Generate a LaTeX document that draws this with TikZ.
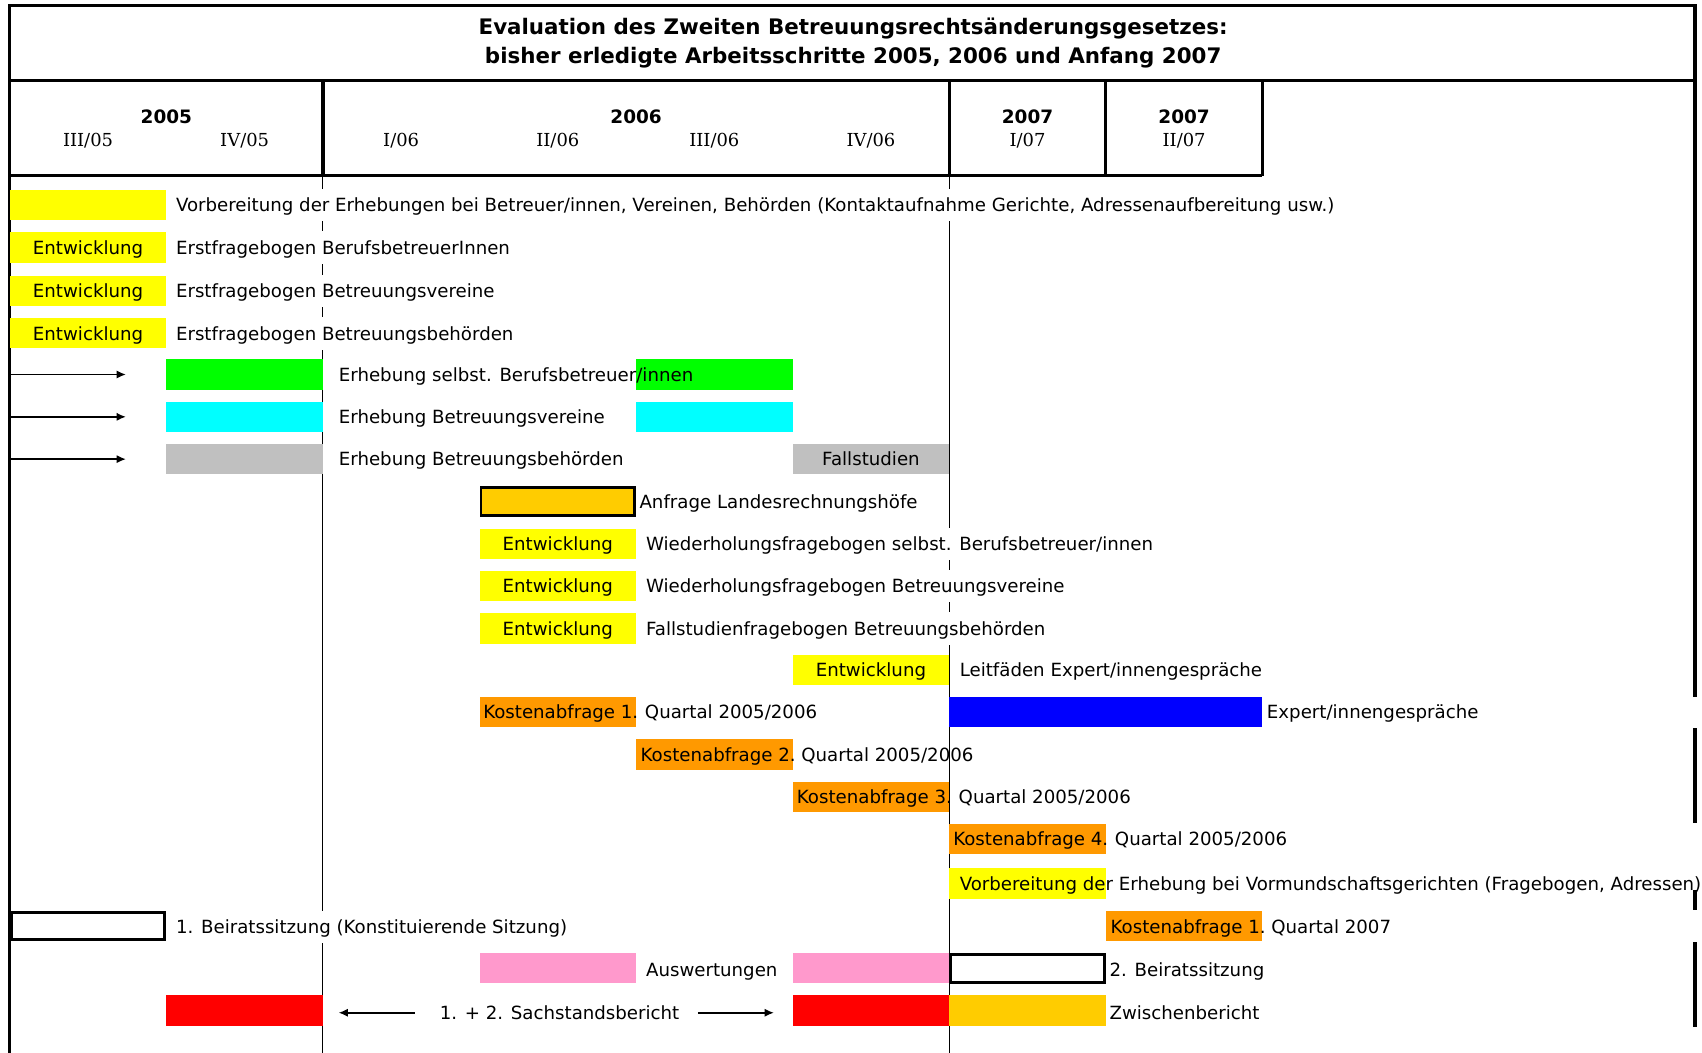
\documentclass[tikz,border=0pt]{standalone}
\usepackage{fontspec}
\setmainfont{DejaVu Sans}
\newfontfamily\qserif{DejaVu Serif}
\usetikzlibrary{arrows.meta}
\definecolor{cyel}{HTML}{FFFF00}
\definecolor{cgrn}{HTML}{00FF00}
\definecolor{ccyn}{HTML}{00FFFF}
\definecolor{cgry}{HTML}{C0C0C0}
\definecolor{cgold}{HTML}{FFCC00}
\definecolor{corg}{HTML}{FF9900}
\definecolor{cblu}{HTML}{0000FF}
\definecolor{cpnk}{HTML}{FF99CC}
\definecolor{cred}{HTML}{FF0000}
\newcommand\bodyfnt{\fontsize{16.75}{19}\selectfont}
\begin{document}
\begin{tikzpicture}[x=1pt,y=-1pt,
  bar/.style={minimum width=144.25pt, minimum height=28pt, inner sep=0pt, outer sep=0pt, draw=none, font=\bodyfnt, text height=12.5pt, text depth=0pt},
  fbox/.style={bar, draw=black, line width=2.75pt, minimum width=141.5pt, minimum height=25.5pt},
  lbl/.style={anchor=west, inner sep=0pt, font=\bodyfnt, text height=12.5pt, text depth=0pt},
  lblw/.style={lbl, fill=white, minimum height=30pt},
  yr/.style={font=\fontsize{17}{20}\selectfont\bfseries, inner sep=0pt},
  qt/.style={font=\qserif\fontsize{16.5}{19}\selectfont, inner sep=0pt},
  ttl/.style={font=\fontsize{19.7}{23}\selectfont\bfseries, inner sep=0pt},
  thick frame/.style={line width=3pt},
  thin grid/.style={line width=1pt},
  arr/.style={line width=1.4pt, -{Latex[length=8.5pt,width=7.5pt]}}
]
\useasboundingbox (0,0) rectangle (1568,970);

% ---- frame and header ----
\draw[thick frame] (9,970) -- (9,5) -- (1561.5,5) -- (1561.5,642);
\draw[thick frame] (1561.5,671) -- (1561.5,758);
\draw[thick frame] (1561.5,820) -- (1561.5,838);
\draw[thick frame] (1561.5,868) -- (1561.5,946);
\draw[thick frame] (9,74) -- (1561.5,74);
\draw[thick frame] (9,162) -- (1163,162);
\foreach \xx in {297.5,874.5,1018.75,1163} \draw[thick frame] (\xx,74) -- (\xx,162);

\node[ttl] (t1) at (786,26.5) {Evaluation des Zweiten Betreuungsrechtsänderungsgesetzes:};
\node[ttl] (t2) at (786,53) {bisher erledigte Arbeitsschritte 2005, 2006 und Anfang 2007};

\node[yr] (y05) at (153.25,107.5) {2005};
\node[yr] (y06) at (586,107.5) {2006};
\node[yr] (y07a) at (946.6,107.5) {2007};
\node[yr] (y07b) at (1090.9,107.5) {2007};
\node[qt] (q1) at (81.1,129.5) {III/05};
\node[qt] (q2) at (225.4,129.5) {IV/05};
\node[qt] (q3) at (369.6,129.5) {I/06};
\node[qt] (q4) at (513.9,129.5) {II/06};
\node[qt] (q5) at (658.1,129.5) {III/06};
\node[qt] (q6) at (802.4,129.5) {IV/06};
\node[qt] (q7) at (946.6,129.5) {I/07};
\node[qt] (q8) at (1090.9,129.5) {II/07};

% ---- thin vertical lines ----
\draw[thin grid] (297.5,162) -- (297.5,970);
\draw[thin grid] (874.5,162) -- (874.5,970);

% ---- bars ----
\node[bar, fill=cyel] (b1) at (81.125,189) {};
\node[bar, fill=cyel] (b2) at (81.125,228) {Entwicklung};
\node[bar, fill=cyel] (b3) at (81.125,268) {Entwicklung};
\node[bar, fill=cyel] (b4) at (81.125,307) {Entwicklung};
\node[bar, fill=cgrn] (b5a) at (225.375,345) {};
\node[bar, fill=cgrn] (b5b) at (658.125,345) {};
\node[bar, fill=ccyn] (b6a) at (225.375,384) {};
\node[bar, fill=ccyn] (b6b) at (658.125,384) {};
\node[bar, fill=cgry] (b7a) at (225.375,423) {};
\node[bar, fill=cgry] (b7b) at (802.375,423) {Fallstudien};
\node[fbox, fill=cgold] (b8) at (513.875,462) {};
\node[bar, fill=cyel] (b9) at (513.875,501) {Entwicklung};
\node[bar, fill=cyel] (b10) at (513.875,540) {Entwicklung};
\node[bar, fill=cyel] (b11) at (513.875,579) {Entwicklung};
\node[bar, fill=cyel] (b12) at (802.375,617) {Entwicklung};
\node[bar, fill=corg] (b13) at (513.875,656) {};
\node[bar, fill=cblu, minimum width=288.5pt] (b13b) at (1018.75,656) {};
\node[bar, fill=corg] (b14) at (658.125,695) {};
\node[bar, fill=corg] (b15) at (802.375,734) {};
\node[bar, fill=corg] (b16) at (946.625,773) {};
\node[bar, fill=cyel] (b17) at (946.625,814) {};
\node[fbox, fill=white] (b18) at (81.125,853) {};
\node[bar, fill=corg] (b18b) at (1090.875,853) {};
\node[bar, fill=cpnk] (b19a) at (513.875,892) {};
\node[bar, fill=cpnk] (b19b) at (802.375,892) {};
\node[fbox, fill=white] (b19c) at (946.625,892) {};
\node[bar, fill=cred] (b20a) at (225.375,931) {};
\node[bar, fill=cred] (b20b) at (802.375,931) {};
\node[bar, fill=cgold] (b20c) at (946.625,931) {};

% ---- labels ----
\node[lblw] (l1) at (162,189) {Vorbereitung der Erhebungen bei Betreuer/innen, Vereinen, Behörden (Kontaktaufnahme Gerichte, Adressenaufbereitung usw.)};
\node[lblw] (l2) at (162,228) {Erstfragebogen BerufsbetreuerInnen};
\node[lblw] (l3) at (162,268) {Erstfragebogen Betreuungsvereine};
\node[lblw] (l4) at (162,307) {Erstfragebogen Betreuungsbehörden};
\node[lbl] (l5) at (312,345) {Erhebung selbst. Berufsbetreuer/innen};
\node[lbl] (l6) at (312,384) {Erhebung Betreuungsvereine};
\node[lbl] (l7) at (312,423) {Erhebung Betreuungsbehörden};
\node[lbl] (l8) at (589,462) {Anfrage Landesrechnungshöfe};
\node[lblw] (l9) at (595,501) {Wiederholungsfragebogen selbst. Berufsbetreuer/innen};
\node[lblw] (l10) at (595,540) {Wiederholungsfragebogen Betreuungsvereine};
\node[lblw] (l11) at (595,579) {Fallstudienfragebogen Betreuungsbehörden};
\node[lbl] (l12) at (884,617) {Leitfäden Expert/innengespräche};
\node[lbl] (k13) at (445,656) {Kostenabfrage 1.};
\node[lbl] (l13) at (594,656) {Quartal 2005/2006};
\node[lbl] (l13b) at (1167,656) {Expert/innengespräche};
\node[lbl] (k14) at (590,695) {Kostenabfrage 2.};
\node[lbl] (l14) at (738,695) {Quartal 2005/2006};
\node[lbl] (k15) at (734,734) {Kostenabfrage 3.};
\node[lbl] (l15) at (883,734) {Quartal 2005/2006};
\node[lbl] (k16) at (878,773) {Kostenabfrage 4.};
\node[lbl] (l16) at (1027,773) {Quartal 2005/2006};
\node[lbl] (l17) at (884,814) {Vorbereitung der Erhebung bei Vormundschaftsgerichten (Fragebogen, Adressen)};
\node[lblw] (l18) at (162,854) {1. Beiratssitzung (Konstituierende Sitzung)};
\node[lbl] (k18) at (1023,854) {Kostenabfrage 1.};
\node[lbl] (l18b) at (1171,854) {Quartal 2007};
\node[lbl] (l19) at (595,893) {Auswertungen};
\node[lbl] (l19b) at (1022,893) {2. Beiratssitzung};
\node[lbl] (l20) at (405,933) {1. + 2. Sachstandsbericht};
\node[lbl] (l20b) at (1022,933) {Zwischenbericht};

% ---- arrows ----
\coordinate (a5s) at (9,345);  \coordinate (a5e) at (116,345);
\coordinate (a6s) at (9,384);  \coordinate (a6e) at (116,384);
\coordinate (a7s) at (9,423);  \coordinate (a7e) at (116,423);
\coordinate (a20ls) at (382,933); \coordinate (a20le) at (312,933);
\coordinate (a20rs) at (643,933); \coordinate (a20re) at (713,933);
\draw[arr] (a5s) -- (a5e);
\draw[arr] (a6s) -- (a6e);
\draw[arr] (a7s) -- (a7e);
\draw[arr] (a20ls) -- (a20le);
\draw[arr] (a20rs) -- (a20re);
\end{tikzpicture}
\end{document}
